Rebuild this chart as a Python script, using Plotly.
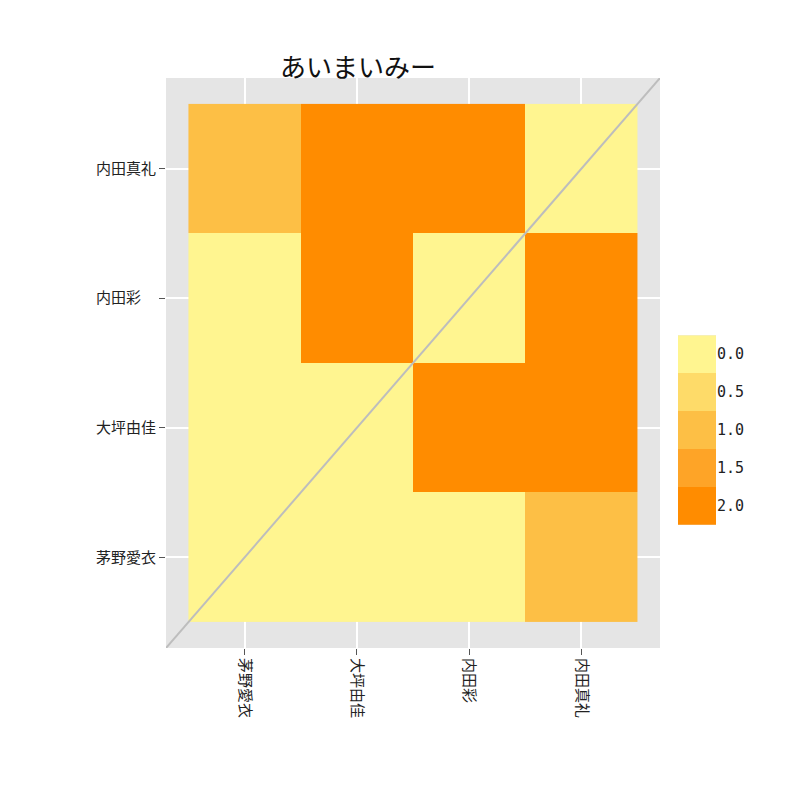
import plotly.graph_objects as go

names = ["茅野愛衣", "大坪由佳", "内田彩", "内田真礼"]
y_labels = ["茅野愛衣", "大坪由佳", "内田彩　", "内田真礼"]
# rows bottom -> top (y = 茅野愛衣 ... 内田真礼), columns x = names
z = [
    [0, 0, 0, 1.0],
    [0, 0, 2, 2],
    [0, 2, 0, 2],
    [1.0, 2, 2, 0],
]
levels = [0.0, 0.5, 1.0, 1.5, 2.0]
level_colors = ["#fff590", "#fedb69", "#fdbf45", "#fea427", "#ff8c00"]

cscale = [[i / 4, c] for i, c in enumerate(level_colors)]
pos = [1, 2, 3, 4]

fig = go.Figure()
fig.add_trace(go.Heatmap(x=pos, y=pos, z=z, zmin=0, zmax=2, colorscale=cscale,
                         showscale=False, hoverinfo="skip"))
fig.add_trace(go.Scatter(x=[0.3, 4.7], y=[0.3, 4.7], mode="lines",
                         line=dict(color="#bdbdbd", width=2), showlegend=False,
                         hoverinfo="skip"))
# legend as a small heatmap
fig.add_trace(go.Heatmap(x=[0], y=[f"{v:.1f}" for v in levels], z=[[v] for v in levels],
                         zmin=0, zmax=2, colorscale=cscale, showscale=False,
                         xaxis="x2", yaxis="y2", xgap=0, ygap=0, hoverinfo="skip"))

fig.update_layout(
    width=800, height=800, margin=dict(l=0, r=0, t=0, b=0),
    paper_bgcolor="white", plot_bgcolor="#e5e5e5",
    font=dict(family="Noto Sans CJK JP", size=15, color="#222"),
    title=dict(text="あいまいみー", x=0.4375, y=0.937, xanchor="center",
               font=dict(size=26, color="#111")),
    xaxis=dict(domain=[0.1975, 0.815], range=[0.3, 4.7], tickvals=pos, ticktext=names,
               tickangle=90, showgrid=True, gridcolor="white", gridwidth=1.5,
               zeroline=False, ticks="outside", ticklen=6, tickcolor="#555",
               anchor="y"),
    yaxis=dict(domain=[0.2, 0.9125], range=[0.3, 4.7], tickvals=pos, ticktext=y_labels,
               showgrid=True, gridcolor="white", gridwidth=1.5,
               zeroline=False, ticks="outside", ticklen=6, tickcolor="#555",
               anchor="x"),
    xaxis2=dict(domain=[0.8375, 0.885], showticklabels=False, showgrid=False,
                zeroline=False, anchor="y2"),
    yaxis2=dict(domain=[0.354, 0.591], side="right", autorange="reversed",
                showgrid=False, zeroline=False, anchor="x2", ticks="",
                tickfont=dict(family="DejaVu Sans Mono", size=15)),
)
fig.update_layout(xaxis2_linecolor="white")

fig.write_html("out.html")
